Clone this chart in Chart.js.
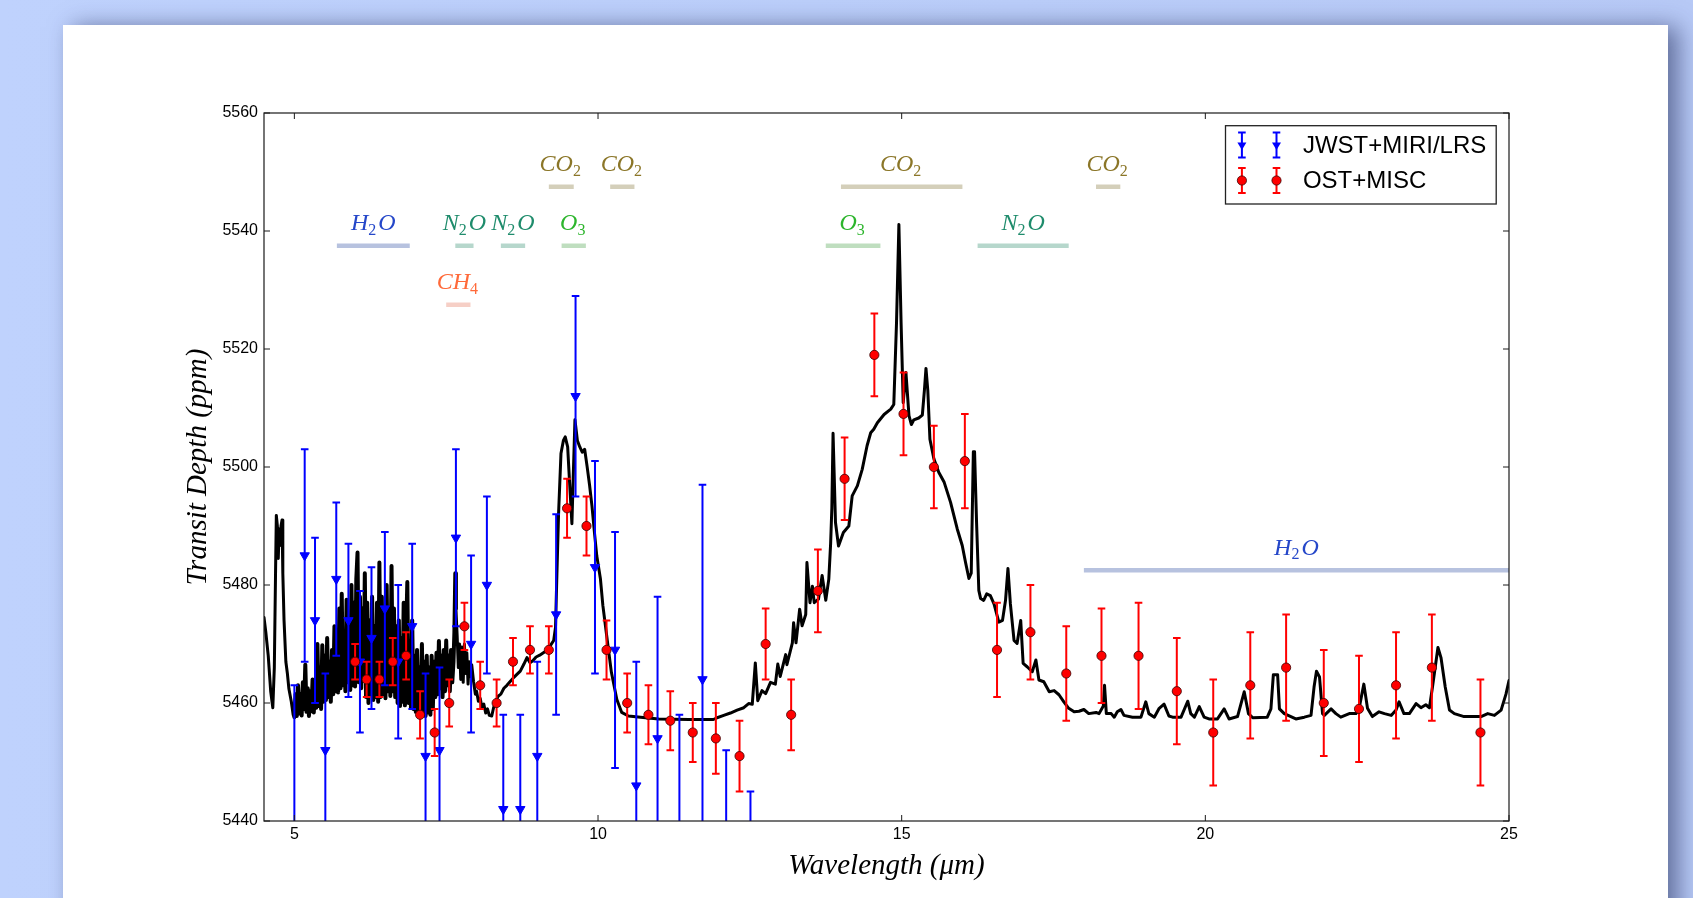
<!DOCTYPE html>
<html><head><meta charset="utf-8">
<script src="https://cdn.jsdelivr.net/npm/chart.js@4.4.1/dist/chart.umd.min.js"></script>
<style>
html,body{margin:0;padding:0;}
body{width:1693px;height:898px;overflow:hidden;position:relative;background:linear-gradient(90deg,#bfd2fd 0%,#bacdf9 60%,#b7c9f6 100%);}
#card{position:absolute;left:63px;top:25px;width:1605px;height:900px;background:#fff;box-shadow:10px 2px 22px rgba(40,50,95,0.6);}
#c{position:absolute;left:0;top:0;width:1693px;height:898px;}
</style></head>
<body><div id="card"></div><canvas id="c" width="1693" height="898"></canvas>
<script>
// ---------- axis ticks ----------
const xTicks = [5, 10, 15, 20, 25];
const yTicks = [5440, 5460, 5480, 5500, 5520, 5540, 5560];

// ---------- model spectrum ----------
const modelWave = [
4.50,4.53,4.57,4.61,4.645,4.67,4.69,4.703,4.72,4.735,4.75,4.765,4.78,4.797,4.81,4.83,4.86,4.885,4.91,4.95,4.98,
5.00,5.02,5.04,5.06,5.08,5.10,5.12,5.14,5.16,5.18,5.20,5.22,5.24,5.26,5.28,5.30,5.32,5.34,5.36,5.38,5.40,5.42,5.44,5.46,
5.48,5.50,5.52,5.54,5.56,5.58,5.60,5.62,5.64,5.66,5.68,
5.70,5.72,5.74,5.76,5.78,5.80,5.82,5.84,5.86,5.88,5.90,5.92,5.94,
5.96,5.98,6.00,6.02,6.04,6.06,6.08,6.10,6.12,6.14,6.16,
6.18,6.20,6.22,6.24,6.26,6.28,6.30,6.32,6.34,6.36,6.38,6.40,6.42,
6.44,6.46,6.48,6.50,6.52,6.54,6.56,6.58,6.60,6.62,6.64,6.66,6.68,6.70,
6.72,6.74,6.76,6.78,6.80,6.82,6.84,6.86,6.88,6.90,6.92,6.94,6.96,
6.98,7.00,7.02,7.04,7.06,7.08,7.10,7.12,7.14,7.16,7.18,7.20,7.22,7.24,7.26,7.28,7.30,
7.32,7.34,7.36,7.38,7.40,7.42,7.44,7.46,7.48,7.50,7.52,7.54,7.56,7.58,7.60,7.62,7.635,7.65,7.66,
7.68,7.70,7.72,7.74,7.76,7.78,7.80,7.82,7.84,7.86,7.88,7.90,7.92,7.95,
7.98,8.00,8.03,8.06,8.09,8.12,8.15,8.18,8.21,8.25,8.28,8.32,8.36,8.40,
8.45,8.50,8.55,8.61,8.66,8.72,8.78,8.83,8.88,8.93,8.98,9.04,9.10,9.16,9.22,9.27,9.30,9.32,9.35,9.39,9.43,9.46,9.50,9.53,9.57,9.59,9.62,9.66,9.70,9.74,9.78,9.82,9.86,9.90,9.94,9.98,10.04,10.08,10.15,10.22,10.31,10.39,10.50,10.70,
11.0,11.5,11.9,11.96,12.07,12.18,12.29,12.40,12.48,12.54,12.59,12.63,12.70,12.76,12.84,12.92,12.96,13.00,13.09,13.11,13.20,13.22,13.26,13.32,13.36,13.42,13.44,13.49,13.53,13.56,13.63,13.69,13.75,13.80,13.83,13.85,13.87,13.91,13.96,14.04,14.13,14.185,14.27,14.35,14.43,14.49,14.54,14.60,14.71,14.82,14.87,14.915,14.954,14.99,15.025,15.07,15.12,15.16,15.20,15.28,15.34,15.375,15.40,15.43,15.465,15.53,15.61,15.70,15.805,15.915,15.997,16.05,16.107,16.145,16.18,16.20,16.233,16.27,16.30,16.35,16.40,16.46,16.52,16.60,16.66,16.71,16.75,16.79,16.85,16.90,16.96,17.00,17.07,17.15,17.21,17.26,17.34,17.43,17.51,17.59,17.67,17.75,17.84,17.92,18.0,
18.08,18.2,18.25,18.32,18.34,18.37,18.45,18.50,18.55,18.61,18.66,18.80,18.94,19.02,19.07,19.16,19.24,19.32,19.40,19.46,19.60,19.71,19.76,19.82,19.90,19.98,20.06,20.20,20.31,20.39,20.53,20.64,20.71,20.78,21.02,21.08,21.12,21.19,21.22,21.30,21.49,21.63,21.74,21.79,21.83,21.88,21.93,21.96,22.07,22.15,22.23,22.37,22.48,22.53,22.61,22.67,22.75,22.86,22.95,23.06,23.14,23.19,23.27,23.36,23.47,23.55,23.63,23.69,23.74,23.83,23.88,23.95,24.02,24.10,24.26,24.54,24.65,24.76,24.87,24.95,25.0
];
const modelDepth = [
5474.5,5472,5468,5462,5459.2,5466,5482,5491.8,5490,5484.5,5489.5,5486.7,5490,5491,5482,5474,5467,5465,5462.4,5460.2,5458,
5457.6,5461.5,5457.8,5463,5458.2,5461.5,5457.9,5463.5,5459,5466.5,5458.5,5462.5,5457.8,5462,5458.6,5464,5458.4,5463,5459.2,5470,5459.5,5466,5459,5469.8,
5460.2,5468,5460.5,5471,5461,5467,5460.2,5469,5461.5,5473,5462,
5471,5461.8,5476,5462.5,5478.5,5463,5472,5462,5477.5,5463.5,5474,5462.2,5480,
5463,5477,5462.8,5481,5485.5,5463.5,5478,5462.5,5476,5464,5482,
5461,5477,5460,5474,5461.5,5478,5460.5,5473,5461,5477,5460.2,5483.8,5461,
5478,5461.5,5475,5460.8,5480,5462,5476,5461.2,5483.2,5462,5476,5461,5473,5460,
5474,5459.5,5471,5460.2,5477,5459.6,5472,5480.5,5460,5470,5459.2,5474,5459,
5468,5458.5,5469,5458,5466,5458.6,5470,5458.2,5467,5457.8,5468,5458.4,5466,5458,5468,5459,5467,
5461,5468.5,5461.5,5470.5,5462.5,5468,5461,5469,5462,5470.6,5463,5468,5462,5469,5463.5,5467,5472,5482,5476,
5471.5,5466,5470,5464,5469.5,5463.5,5470,5465,5468.5,5463.2,5467,5464.5,5466.5,5463.7,
5461.5,5462,5460.3,5460.8,5459.2,5459.8,5458.3,5459.0,5457.9,5457.8,5459.2,5460.4,5461.2,5461.5,
5462.5,5463,5463.6,5464.3,5464.8,5465.4,5466.6,5467.7,5466.8,5467.2,5467.8,5468.1,5468.5,5468.9,5469.8,5470.6,5472.8,5480.7,5492,5502.3,5504.5,5505.1,5503.4,5497.7,5490.4,5497.7,5508,5504.5,5503.4,5502.5,5503,5500.1,5497,5493.4,5489,5484.9,5481,5476.5,5470.8,5465.2,5460.6,5458.4,5457.8,5457.6,
5457.3,5457.2,5457.2,5457.5,5457.9,5458.3,5458.8,5459.2,5459.9,5459.8,5466.8,5460.4,5462.1,5461.6,5463.5,5463.2,5466.6,5464.5,5468.2,5466.5,5470.2,5473.6,5470.2,5475.9,5473.1,5475,5483.8,5477,5479.8,5477,5477.6,5481.6,5477.4,5481,5487,5493,5505.7,5490.6,5486.6,5488.9,5490,5495.1,5496.8,5499.6,5503.6,5505.8,5506.4,5507.5,5508.9,5509.8,5510.6,5524.5,5541.1,5524.5,5510.9,5516,5508.7,5507.2,5508,5508.3,5508.8,5513.1,5516.7,5513,5504.7,5501.4,5499.1,5497.4,5494,5489.5,5486.7,5483.9,5481.1,5482,5502.6,5502.6,5490.6,5479.1,5477.7,5477.4,5478.5,5478.2,5476.8,5473.7,5474,5477.4,5482.8,5476.8,5470.6,5470.1,5474,5466.7,5466.1,5465.3,5467.3,5463.9,5463.6,5461.9,5462.1,5461.4,5460.2,5459.1,5458.5,5458.6,5458.9,
5458.2,5458.4,5458.2,5459.5,5463.0,5458.2,5458.2,5457.6,5458.5,5458.9,5457.9,5457.6,5457.6,5460.2,5458.2,5457.6,5459.1,5459.8,5457.8,5457.6,5457.6,5460.3,5458.2,5457.6,5459.4,5457.6,5457.3,5457.3,5459.0,5457.3,5457.7,5461.9,5458.2,5457.5,5457.6,5459,5464.8,5464.8,5459,5458.2,5457.3,5457.6,5457.9,5462.7,5465.4,5464.4,5458.2,5457.9,5459.0,5458.2,5457.6,5458.2,5458.2,5459.0,5463.2,5459.1,5457.7,5458.5,5458.2,5457.9,5458.8,5460.2,5458.2,5458.2,5459.9,5459.2,5459.7,5459.2,5462.7,5469.4,5467.7,5462.7,5458.8,5458.2,5457.7,5457.7,5458.2,5457.9,5458.8,5461.5,5463.8
];

// ---------- JWST+MIRI/LRS ----------
const jwstWave  = [5.00,5.17,5.34,5.51,5.69,5.89,6.08,6.27,6.49,6.71,6.94,7.16,7.39,7.66,7.91,8.17,8.44,8.72,9.00,9.31,9.63,9.95,10.28,10.63,10.98,11.34,11.72,12.11,12.51];
const jwstDepth = [5438,5485,5474,5452,5481,5474,5467,5471,5476,5467,5473,5451,5452,5488,5470,5480,5442,5442,5451,5475,5512,5483,5469,5446,5454,5432,5464,5420,5410];
const jwstErr   = [25,18,14,13,13,13,12,12,13,13,14,14,14,15,15,15,16,16,16,17,17,18,20,21,24,26,33,32,35];

// ---------- OST+MISC ----------
const ostWave  = [6.00,6.19,6.40,6.62,6.84,7.07,7.31,7.55,7.80,8.06,8.33,8.60,8.88,9.19,9.49,9.81,10.14,10.48,10.83,11.19,11.56,11.94,12.33,12.76,13.18,13.62,14.06,14.55,15.03,15.53,16.04,16.57,17.12,17.71,18.29,18.90,19.53,20.13,20.74,21.33,21.95,22.53,23.14,23.73,24.53];
const ostDepth = [5467,5464,5464,5467,5468,5458,5455,5460,5473,5463,5460,5467,5469,5469,5493,5490,5469,5460,5458,5457,5455,5454,5451,5470,5458,5479,5498,5519,5509,5500,5501,5469,5472,5465,5468,5468,5462,5455,5463,5466,5460,5459,5463,5466,5455];
const ostErr   = [3,3,3,4,4,4,4,4,4,4,4,4,4,4,5,5,5,5,5,5,5,6,6,6,6,7,7,7,7,7,8,8,8,8,8,9,9,9,9,9,9,9,9,9,9];

// ---------- molecular bands ----------
const bandMolecule = ['CO_2','CO_2','CO_2','CO_2','H_2O','N_2O','N_2O','O_3','O_3','N_2O','CH_4','H_2O'];
const bandFrom  = [9.19,10.20,14.0,18.2,5.7,7.65,8.4,9.4,13.75,16.25,7.5,18.0];
const bandTo    = [9.60,10.60,16.0,18.6,6.9,7.95,8.8,9.8,14.65,17.75,7.9,25.0];
const bandLevel = [5547.5,5547.5,5547.5,5547.5,5537.5,5537.5,5537.5,5537.5,5537.5,5537.5,5527.5,5482.5];

const seriesNames = ['JWST+MIRI/LRS','OST+MISC'];
const xTitle = 'Wavelength (\u03bcm)';
const yTitle = 'Transit Depth (ppm)';

// ---------- styles ----------
const molText = {'CO_2':'#8b7628','H_2O':'#2547c9','N_2O':'#1f8c6c','O_3':'#2cb52c','CH_4':'#ff6a3a'};
const molBar  = {'CO_2':'#d4cfba','H_2O':'#b7c2df','N_2O':'#b6d7cc','O_3':'#bfdebf','CH_4':'#f6cfc6'};
const SERIF = '"Liberation Serif", "Times New Roman", serif';
const SANS = '"Liberation Sans", Arial, sans-serif';

function drawMol(ctx, name, cx, baseY, color){
  const parts=[];
  for(let i=0;i<name.length;i++){
    if(name[i]==='_'){parts.push([name[i+1],true]);i++;}
    else{ if(parts.length&&!parts[parts.length-1][1]) parts[parts.length-1][0]+=name[i]; else parts.push([name[i],false]); }
  }
  const fMain='italic 24px '+SERIF, fSub='16px '+SERIF;
  let total=0;
  parts.forEach(p=>{ctx.font=p[1]?fSub:fMain; p.push(ctx.measureText(p[0]).width + (p[1]?2:0)); total+=p[2];});
  let x=cx-total/2;
  ctx.fillStyle=color; ctx.textBaseline='alphabetic'; ctx.textAlign='left';
  parts.forEach(p=>{ctx.font=p[1]?fSub:fMain; ctx.fillText(p[0], x, baseY+(p[1]?4.5:0)); x+=p[2];});
}

function errBar(ctx, px, y1, y2, half){
  ctx.beginPath();
  ctx.moveTo(px,y1); ctx.lineTo(px,y2);
  ctx.moveTo(px-half,y1); ctx.lineTo(px+half,y1);
  ctx.moveTo(px-half,y2); ctx.lineTo(px+half,y2);
  ctx.stroke();
}

const customPlugin = {
  id:'custom',
  beforeDatasetsDraw(chart){
    const {ctx, chartArea:a, scales:{x,y}} = chart;
    ctx.save();
    ctx.beginPath(); ctx.rect(a.left,a.top,a.right-a.left,a.bottom-a.top); ctx.clip();
    bandMolecule.forEach((m,i)=>{
      const x1=x.getPixelForValue(bandFrom[i]), x2=x.getPixelForValue(bandTo[i]), py=y.getPixelForValue(bandLevel[i]);
      ctx.strokeStyle=molBar[m]; ctx.lineWidth=4.5; ctx.lineCap='butt';
      ctx.beginPath(); ctx.moveTo(x1,py); ctx.lineTo(x2,py); ctx.stroke();
      drawMol(ctx, m, (x1+x2)/2, py-15.5, molText[m]);
    });
    ctx.restore();
  },
  beforeDatasetDraw(chart,args){
    const ds = chart.data.datasets[args.index];
    if(!ds.errors) return;
    const {ctx, chartArea:a, scales:{x,y}} = chart;
    ctx.save();
    ctx.beginPath(); ctx.rect(a.left,a.top,a.right-a.left,a.bottom-a.top); ctx.clip();
    ctx.strokeStyle=ds.errColor; ctx.lineWidth=2;
    ds.data.forEach((p,i)=>{
      const e=ds.errors[i];
      errBar(ctx, x.getPixelForValue(p.x), y.getPixelForValue(p.y+e), y.getPixelForValue(p.y-e), 3.8);
    });
    ctx.restore();
  },
  afterDraw(chart){
    const {ctx, chartArea:a, scales:{x,y}} = chart;
    ctx.save();
    ctx.strokeStyle='#1a1a1a'; ctx.lineWidth=1.2;
    ctx.strokeRect(a.left, a.top, a.right-a.left, a.bottom-a.top);
    ctx.lineWidth=1;
    xTicks.forEach(v=>{const px=x.getPixelForValue(v);
      ctx.beginPath(); ctx.moveTo(px,a.bottom); ctx.lineTo(px,a.bottom-6); ctx.moveTo(px,a.top); ctx.lineTo(px,a.top+6); ctx.stroke();});
    yTicks.forEach(v=>{const py=y.getPixelForValue(v);
      ctx.beginPath(); ctx.moveTo(a.left,py); ctx.lineTo(a.left+6,py); ctx.moveTo(a.right,py); ctx.lineTo(a.right-6,py); ctx.stroke();});
    ctx.fillStyle='#000'; ctx.textAlign='center'; ctx.textBaseline='middle';
    ctx.font='italic 29px '+SERIF;
    ctx.fillText(xTitle, (a.left+a.right)/2, a.bottom+45);
    ctx.save(); ctx.translate(198,(a.top+a.bottom)/2); ctx.rotate(-Math.PI/2);
    ctx.fillText(yTitle,0,0); ctx.restore();
    const L=a.right-283.5, T=a.top+12.7, W=270.7, H=78.3;
    ctx.fillStyle='#fff'; ctx.fillRect(L,T,W,H);
    ctx.strokeStyle='#222'; ctx.lineWidth=1.3; ctx.strokeRect(L,T,W,H);
    const mx=[L+16.4, L+51];
    const rows=[T+19.3, T+54.8];
    mx.forEach(cx=>{
      ctx.strokeStyle='#0000ff'; ctx.lineWidth=2; errBar(ctx,cx,rows[0]-12.5,rows[0]+12.5,3.8);
      ctx.fillStyle='#0000ff'; ctx.beginPath();
      ctx.moveTo(cx-4.5,rows[0]-2.6); ctx.lineTo(cx+4.5,rows[0]-2.6); ctx.lineTo(cx,rows[0]+5); ctx.closePath(); ctx.fill();
      ctx.strokeStyle='#ff0000'; ctx.lineWidth=2; errBar(ctx,cx,rows[1]-12.5,rows[1]+12.5,3.8);
      ctx.fillStyle='#ff0000'; ctx.strokeStyle='#3a0000'; ctx.lineWidth=0.8;
      ctx.beginPath(); ctx.arc(cx,rows[1],4.6,0,Math.PI*2); ctx.fill(); ctx.stroke();
    });
    ctx.fillStyle='#000'; ctx.textAlign='left'; ctx.textBaseline='middle'; ctx.font='24px '+SANS;
    ctx.fillText(seriesNames[0], L+77.4, rows[0]+1);
    ctx.fillText(seriesNames[1], L+77.4, rows[1]+1);
    ctx.restore();
  }
};

const toXY = (xs,ys)=>xs.map((v,i)=>({x:v,y:ys[i]}));

new Chart(document.getElementById('c').getContext('2d'), {
  type:'scatter',
  data:{datasets:[
    {label:seriesNames[1], data:toXY(ostWave,ostDepth), errors:ostErr, errColor:'#ff0000',
     pointStyle:'circle', pointRadius:4.6, pointBackgroundColor:'#ff0000', pointBorderColor:'#3a0000', pointBorderWidth:0.8, order:0, clip:0},
    {label:seriesNames[0], data:toXY(jwstWave,jwstDepth), errors:jwstErr, errColor:'#0000ff',
     pointStyle:'triangle', pointRotation:180, pointRadius:5.4, pointBackgroundColor:'#0000ff', pointBorderColor:'#0000ff', pointBorderWidth:1, order:1, clip:0},
    {label:'model', data:toXY(modelWave,modelDepth), showLine:true, pointRadius:0, borderColor:'#000', borderWidth:3,
     segment:{borderWidth:c=>(c.p0.parsed.x>=4.99 && c.p1.parsed.x<=7.67) ? 4 : 3},
     borderJoinStyle:'round', borderCapStyle:'round', tension:0, order:2, clip:0}
  ]},
  options:{
    responsive:false, animation:false, devicePixelRatio:1,
    layout:{padding:{left:0,right:184,top:113,bottom:0}},
    plugins:{legend:{display:false}, tooltip:{enabled:false}},
    scales:{
      x:{type:'linear', min:4.5, max:25, grid:{display:false, drawTicks:false}, border:{display:false},
         ticks:{font:{family:SANS,size:16}, color:'#000', padding:4, maxRotation:0, autoSkip:false, callback:v=>String(v)},
         afterBuildTicks:s=>{s.ticks=xTicks.map(v=>({value:v}));},
         afterFit:s=>{s.height=77;}},
      y:{type:'linear', min:5440, max:5560, grid:{display:false, drawTicks:false}, border:{display:false},
         ticks:{font:{family:SANS,size:16}, color:'#000', padding:6, autoSkip:false, callback:v=>String(v)},
         afterBuildTicks:s=>{s.ticks=yTicks.map(v=>({value:v}));},
         afterFit:s=>{s.width=264;}}
    }
  },
  plugins:[customPlugin]
});
</script>
</body></html>
